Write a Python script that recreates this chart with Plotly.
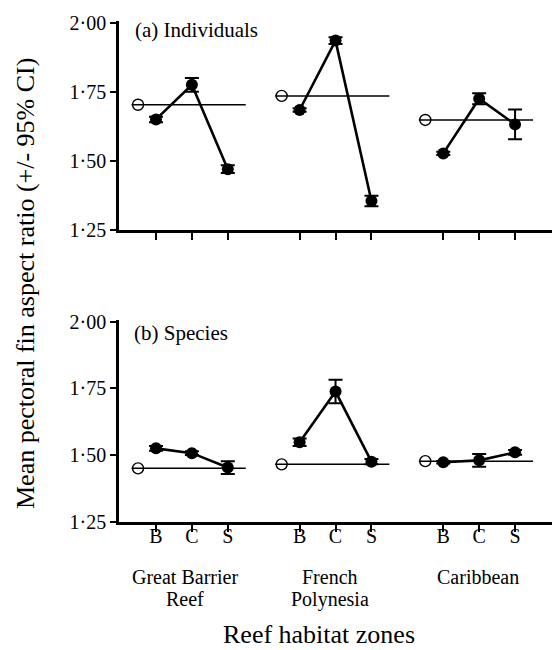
import plotly.graph_objects as go
from plotly.subplots import make_subplots

# ---- data ----
zones = ["B", "C", "S"]
regions = ["Great Barrier<br>Reef", "French<br>Polynesia", "Caribbean"]
region_label_x = [1.82, 5.85, 9.96]

ind_mean = [[1.650, 1.775, 1.470], [1.684, 1.935, 1.355], [1.527, 1.725, 1.632]]
ind_ci = [[0.010, 0.025, 0.014], [0.006, 0.012, 0.019], [0.006, 0.020, 0.054]]
ind_overall = [1.703, 1.735, 1.648]

sp_mean = [[1.525, 1.507, 1.453], [1.548, 1.738, 1.475], [1.473, 1.480, 1.510]]
sp_ci = [[0.009, 0.007, 0.024], [0.014, 0.044, 0.010], [0.005, 0.024, 0.009]]
sp_overall = [1.450, 1.465, 1.477]

y_tickvals = [1.25, 1.50, 1.75, 2.00]
y_ticktext = ["1·25", "1·50", "1·75", "2·00"]

panel_labels = ["(a) Individuals", "(b) Species"]
y_title = "Mean pectoral fin aspect ratio (+/- 95% CI)"
x_title = "Reef habitat zones"

FONT = "Liberation Serif, Times New Roman, serif"
W, H = 560, 650

# positions of zones: groups of 3 with a gap of one slot
def zone_x(g):
    return [g * 4 + 1 + i for i in range(len(zones))]

fig = make_subplots(rows=2, cols=1)

panels = [(ind_mean, ind_ci, ind_overall), (sp_mean, sp_ci, sp_overall)]
for p, (means, cis, overall) in enumerate(panels):
    row = p + 1
    for g in range(len(regions)):
        xs = zone_x(g)
        ox = xs[0] - 0.5
        # horizontal reference line
        fig.add_trace(go.Scatter(
            x=[ox - 0.18, xs[-1] + 0.5], y=[overall[g], overall[g]],
            mode="lines", line=dict(color="black", width=1.5),
            showlegend=False, hoverinfo="skip"), row=row, col=1)
        # overall open circle
        fig.add_trace(go.Scatter(
            x=[ox], y=[overall[g]], mode="markers",
            marker=dict(symbol="circle-open", size=11, color="black",
                        line=dict(width=1.4, color="black")),
            showlegend=False), row=row, col=1)
        # zone means with CI
        fig.add_trace(go.Scatter(
            x=xs, y=means[g], mode="lines+markers",
            line=dict(color="black", width=2.6),
            marker=dict(symbol="circle", size=12, color="black"),
            error_y=dict(type="data", array=cis[g], visible=True,
                         color="black", thickness=2, width=7),
            showlegend=False), row=row, col=1)

xdom = [119 / W, 551.7 / W]
ydoms = [[1 - 230 / H, 1 - 20.7 / H], [1 - 521.7 / H, 1 - 319.8 / H]]

all_x = [x for g in range(len(regions)) for x in zone_x(g)]
all_t = [z for g in range(len(regions)) for z in zones]

for p in range(2):
    xa = "xaxis" if p == 0 else "xaxis2"
    ya = "yaxis" if p == 0 else "yaxis2"
    fig.layout[xa].update(
        domain=xdom, range=[-0.03, 12.02], showgrid=False, zeroline=False,
        showline=True, linecolor="black", linewidth=2.6,
        ticks="outside", ticklen=7, tickwidth=2.4, tickcolor="black",
        tickvals=all_x, ticktext=all_t, showticklabels=(p == 1),
        ticklabelstandoff=-13,
        tickfont=dict(family=FONT, size=20, color="black"),
        automargin=False, fixedrange=True)
    fig.layout[ya].update(
        domain=ydoms[p], range=[1.25, 2.007], showgrid=False, zeroline=False,
        showline=True, linecolor="black", linewidth=2.6,
        ticks="outside", ticklen=6, tickwidth=2.4, tickcolor="black",
        tickvals=y_tickvals, ticktext=y_ticktext, ticklabelstandoff=0,
        tickfont=dict(family=FONT, size=20, color="black"),
        automargin=False, fixedrange=True)

annotations = []
# panel labels
annotations.append(dict(text=panel_labels[0], x=132.7 / W, y=1 - 30 / H,
                        xref="paper", yref="paper", xanchor="left", yanchor="middle",
                        showarrow=False, font=dict(family=FONT, size=21, color="black")))
annotations.append(dict(text=panel_labels[1], x=131.7 / W, y=1 - 332.7 / H,
                        xref="paper", yref="paper", xanchor="left", yanchor="middle",
                        showarrow=False, font=dict(family=FONT, size=21, color="black")))
# region labels (one annotation per line for tight line spacing)
line_y = [577.0, 599.0]
for g, r in enumerate(regions):
    for k, part in enumerate(r.split("<br>")):
        annotations.append(dict(text=part, x=region_label_x[g], xref="x2",
                                y=1 - line_y[k] / H, yref="paper",
                                xanchor="center", yanchor="middle",
                                showarrow=False,
                                font=dict(family=FONT, size=20, color="black")))
# axis titles
annotations.append(dict(text=x_title, x=319 / W, y=0, yshift=-1,
                        xref="paper", yref="paper", xanchor="center", yanchor="bottom",
                        showarrow=False, font=dict(family=FONT, size=26, color="black")))
annotations.append(dict(text=y_title, x=25 / W, y=1 - 284 / H, textangle=-90,
                        xref="paper", yref="paper", xanchor="center", yanchor="middle",
                        showarrow=False, font=dict(family=FONT, size=26, color="black")))

fig.update_layout(
    width=W, height=H, margin=dict(l=0, r=0, t=0, b=0),
    paper_bgcolor="white", plot_bgcolor="white",
    annotations=annotations, showlegend=False,
    font=dict(family=FONT, color="black"),
)

fig.write_html("out.html", config={"displayModeBar": False},
               post_script="document.body.style.margin='0px';")
